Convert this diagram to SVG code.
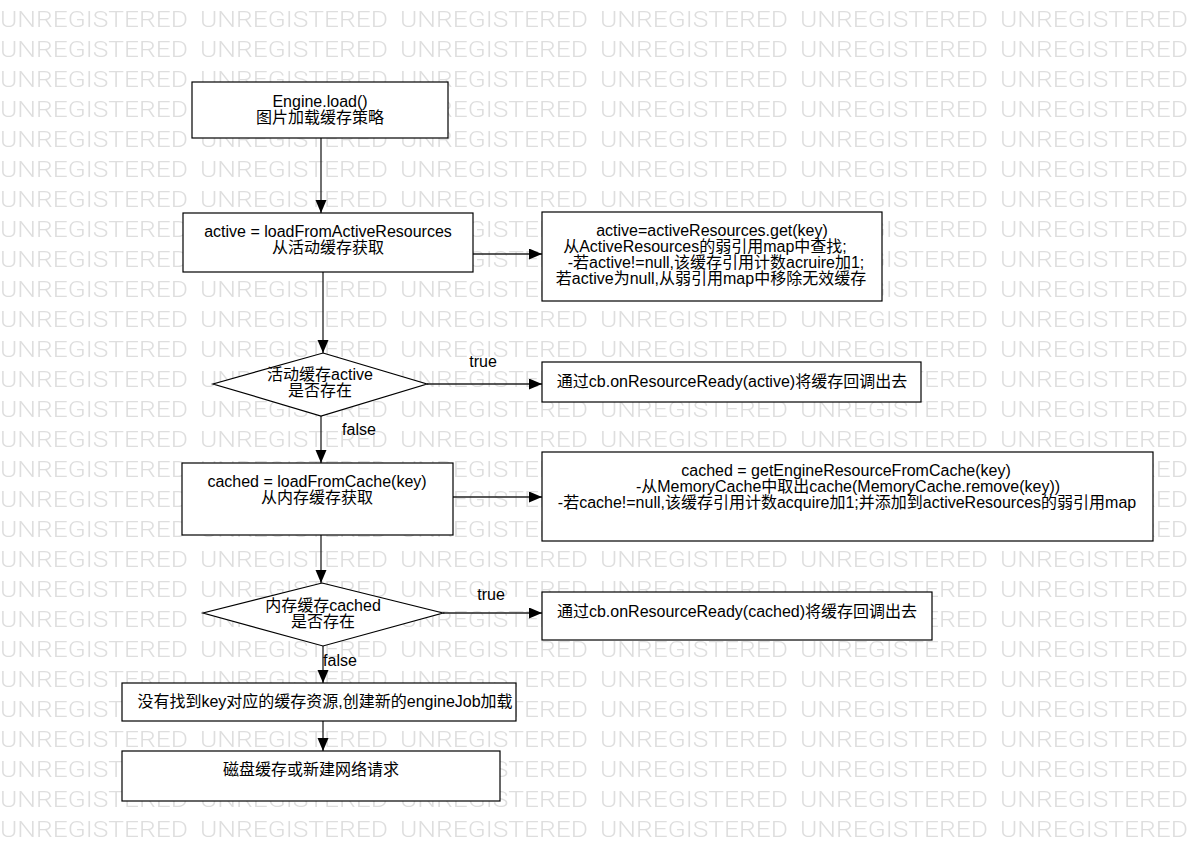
<svg xmlns="http://www.w3.org/2000/svg" width="1202" height="851" viewBox="0 0 1202 851">
  <style>
    .node { fill: #ffffff; stroke: #000000; stroke-width: 1.2; }
    .label { font-family: "Liberation Sans", "Noto Sans CJK SC", sans-serif; font-size: 16px; fill: #000000; text-anchor: middle; }
    .edge { fill: none; stroke: #222222; stroke-width: 1.3; marker-end: url(#arrow); }
    .edgelabel { font-family: "Liberation Sans", "Noto Sans CJK SC", sans-serif; font-size: 16px; fill: #000000; text-anchor: middle; }
    .wm { font-family: "Roboto", "Liberation Sans", sans-serif; font-weight: 300; font-size: 22.5px; fill: #dedede; }
  </style>
  <defs>
    <marker id="arrow" markerUnits="userSpaceOnUse" markerWidth="14" markerHeight="12" refX="13" refY="5.5" orient="auto">
      <path d="M0,0 L13,5.5 L0,11 z" fill="#000000"/>
    </marker>
    <pattern id="wmtile" patternUnits="userSpaceOnUse" x="0" y="0" width="200" height="30">
      <text class="wm" x="0" y="27" textLength="188" lengthAdjust="spacingAndGlyphs">UNREGISTERED</text>
    </pattern>
  </defs>

  <!-- background -->
  <rect x="0" y="0" width="1202" height="851" fill="#ffffff"/>
  <rect x="0" y="0" width="1202" height="851" fill="url(#wmtile)"/>

  <!-- connectors -->
  <g id="connectors">
    <line class="edge" x1="321" y1="138" x2="321" y2="213"/>
    <line class="edge" x1="473" y1="254" x2="542" y2="254"/>
    <line class="edge" x1="323" y1="272" x2="323" y2="353"/>
    <line class="edge" x1="427" y1="384" x2="542" y2="384"/>
    <line class="edge" x1="321" y1="416" x2="321" y2="463"/>
    <line class="edge" x1="453" y1="497" x2="542" y2="497"/>
    <line class="edge" x1="321" y1="535" x2="321" y2="583"/>
    <line class="edge" x1="443" y1="613" x2="542" y2="613"/>
    <line class="edge" x1="323" y1="646" x2="323" y2="683"/>
    <line class="edge" x1="323" y1="721" x2="323" y2="751"/>
    <text class="edgelabel" x="483" y="367">true</text>
    <text class="edgelabel" x="359" y="435">false</text>
    <text class="edgelabel" x="491" y="600">true</text>
    <text class="edgelabel" x="340" y="666">false</text>
  </g>

  <g id="engine-load">
    <rect class="node" x="192" y="82" width="256" height="56"/>
    <text class="label" x="320" y="107">Engine.load()</text>
    <text class="label" x="320" y="123">图片加载缓存策略</text>
  </g>

  <g id="load-active">
    <rect class="node" x="183" y="213" width="290" height="59"/>
    <text class="label" x="328" y="237">active = loadFromActiveResources</text>
    <text class="label" x="328" y="253">从活动缓存获取</text>
  </g>

  <g id="active-detail">
    <rect class="node" x="542" y="212" width="340" height="89"/>
    <text class="label" x="712" y="236">active=activeResources.get(key)</text>
    <text class="label" x="705" y="252">从ActiveResources的弱引用map中查找;</text>
    <text class="label" x="716" y="268">-若active!=null,该缓存引用计数acruire加1;</text>
    <text class="label" x="711" y="284">若active为null,从弱引用map中移除无效缓存</text>
  </g>

  <g id="active-exists">
    <polygon class="node" points="323,353 427,384 321,416 213,384"/>
    <text class="label" x="320" y="380">活动缓存active</text>
    <text class="label" x="320" y="396">是否存在</text>
  </g>

  <g id="active-ready">
    <rect class="node" x="542" y="362" width="379" height="40"/>
    <text class="label" x="732" y="387">通过cb.onResourceReady(active)将缓存回调出去</text>
  </g>

  <g id="load-cache">
    <rect class="node" x="182" y="463" width="271" height="72"/>
    <text class="label" x="317" y="487">cached = loadFromCache(key)</text>
    <text class="label" x="317" y="503">从内存缓存获取</text>
  </g>

  <g id="cache-detail">
    <rect class="node" x="542" y="452" width="611" height="89"/>
    <text class="label" x="846" y="476">cached = getEngineResourceFromCache(key)</text>
    <text class="label" x="848" y="492">-从MemoryCache中取出cache(MemoryCache.remove(key))</text>
    <text class="label" x="847" y="508">-若cache!=null,该缓存引用计数acquire加1;并添加到activeResources的弱引用map</text>
  </g>

  <g id="cache-exists">
    <polygon class="node" points="322,583 443,613 323,646 203,613"/>
    <text class="label" x="323" y="611">内存缓存cached</text>
    <text class="label" x="323" y="627">是否存在</text>
  </g>

  <g id="cache-ready">
    <rect class="node" x="542" y="592" width="390" height="48"/>
    <text class="label" x="737" y="617">通过cb.onResourceReady(cached)将缓存回调出去</text>
  </g>

  <g id="new-engine-job">
    <rect class="node" x="122" y="683" width="394" height="38"/>
    <text class="label" x="325" y="707">没有找到key对应的缓存资源,创建新的engineJob加载</text>
  </g>

  <g id="disk-or-network">
    <rect class="node" x="122" y="751" width="378" height="50"/>
    <text class="label" x="311" y="775">磁盘缓存或新建网络请求</text>
  </g>
</svg>
